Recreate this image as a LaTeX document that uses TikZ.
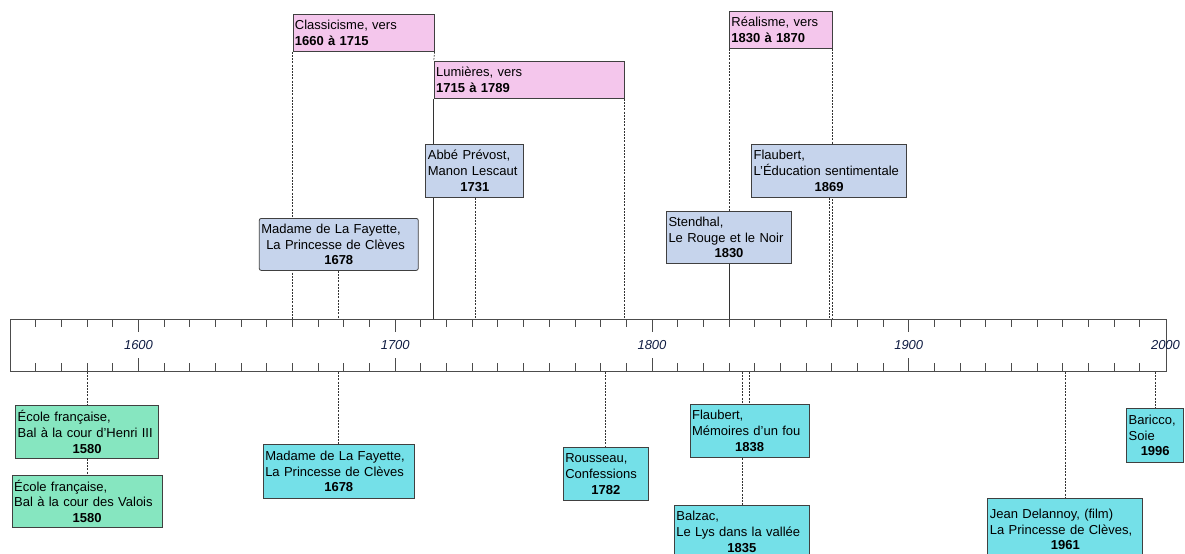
\documentclass[tikz,border=0pt]{standalone}
\usepackage{fontspec}
\setmainfont{Liberation Sans}
\usetikzlibrary{backgrounds}
\definecolor{eraPink}{RGB}{244,198,236}
\definecolor{upBlue}{RGB}{198,212,236}
\definecolor{downGreen}{RGB}{134,230,192}
\definecolor{downCyan}{RGB}{116,224,232}
\definecolor{yearInk}{RGB}{15,28,66}
\newcommand{\yearline}[1]{\makebox[\hsize]{\bfseries #1}}
\begin{document}
% x is in years, y is in points from the top
\begin{tikzpicture}[x=2.5675pt, y=-1pt, xshift=-3969.5pt,
	every node/.style = {font=\fontsize{13}{15.8}\selectfont},
	box/.style = {draw=black!75, line width=0.8pt, inner xsep=2pt, inner ysep=0pt, align=left},
	era/.style = {box, fill=eraPink, anchor=north west, minimum height=37pt, text width=#1},
	evt/.style = {box, anchor=north, minimum height=53pt, text width=#1},
	upevt/.style = {evt=#1, fill=upBlue},
	greenevt/.style = {evt=#1, fill=downGreen},
	cyanevt/.style = {evt=#1, fill=downCyan},
	yearlab/.style = {font=\fontsize{13}{15}\selectfont\itshape, text=yearInk, inner sep=0pt},
	tick/.style = {draw=black!70, line width=0.9pt},
	link/.style = {draw=black!80, line width=0.6pt, dash pattern=on 2pt off 1.2pt},
	solidlink/.style = {draw=black!80, line width=0.8pt}]
	\useasboundingbox (1546.06,0) rectangle (2007.6,554);
	% time axis
	\node[draw=black!70, line width=0.9pt, inner sep=0pt, anchor=north west,
		minimum width=1155.4pt, minimum height=52pt] (axis) at (1550,319) {};
	\foreach \yy in {1560,1570,...,1990} {
		\draw[tick] (\yy,319) -- ++(0,8);
		\draw[tick] (\yy,371) -- ++(0,-8);
	}
	\foreach \yy in {1600,1700,1800,1900} {
		\draw[tick] (\yy,319) -- ++(0,13);
		\draw[tick] (\yy,371) -- ++(0,-13);
	}
	\foreach \yy in {1600,1700,...,2000}
		\node[yearlab] (lab\yy) at (\yy,345) {\yy};
	% periods
	\node[era=137.2pt] (classic) at (1660,14) {Classicisme, vers\\\textbf{1660 à 1715}};
	\node[era=186pt] (lum) at (1715,61) {Lumières, vers\\\textbf{1715 à 1789}};
	\node[era=98.7pt] (real) at (1830,11) {Réalisme, vers\\\textbf{1830 à 1870}};
	% works above the axis
	\node[upevt=94pt] (prevost) at (1731,144) {Abbé Prévost,\\Manon Lescaut\\\yearline{1731}};
	\node[upevt=155pt, minimum height=52pt, rounded corners=2pt] (lafA) at (1678,218)
		{Madame de La Fayette,\\\hspace*{5pt}La Princesse de Clèves\\\yearline{1678}};
	\node[upevt=151pt] (educ) at (1869,144) {Flaubert,\\L'Éducation sentimentale\\\yearline{1869}};
	\node[upevt=121pt, minimum height=52pt] (stendhal) at (1830,211) {Stendhal,\\Le Rouge et le Noir\\\yearline{1830}};
	% works below the axis
	\node[greenevt=139pt] (henri) at (1580,405) {École française,\\Bal à la cour d'Henri III\\\yearline{1580}};
	\node[greenevt=146pt, minimum height=52pt] (valois) at (1580,475) {École française,\\Bal à la cour des Valois\\\yearline{1580}};
	\node[cyanevt=147pt, minimum height=54pt] (lafB) at (1678,444) {Madame de La Fayette,\\La Princesse de Clèves\\\yearline{1678}};
	\node[cyanevt=81pt] (rousseau) at (1782,447) {Rousseau,\\Confessions\\\yearline{1782}};
	\node[cyanevt=115pt] (memo) at (1838,404) {Flaubert,\\Mémoires d'un fou\\\yearline{1838}};
	\node[cyanevt=131pt] (balzac) at (1835,505) {Balzac,\\Le Lys dans la vallée\\\yearline{1835}};
	\node[cyanevt=151pt, minimum height=62pt] (delannoy) at (1961,498) {Jean Delannoy, (film)\\La Princesse de Clèves,\\\yearline{1961}};
	\node[cyanevt=53pt, minimum height=54pt] (baricco) at (1996,408) {Baricco,\\Soie\\\yearline{1996}};
	\begin{pgfonlayer}{background}
		\draw[link] (classic.south west) -- (classic.south west |- axis.north);
		\draw[link] (classic.south east) -- (lum.north west);
		\draw[solidlink] (lum.south west) -- (lum.south west |- axis.north);
		\draw[link] (lum.south east) -- (lum.south east |- axis.north);
		\draw[link] (real.south west) -- (stendhal.north);
		\draw[solidlink] (stendhal.south) -- (stendhal.south |- axis.north);
		\draw[link] (real.south east) -- (real.south east |- axis.north);
		\draw[link] (prevost.south) -- (prevost.south |- axis.north);
		\draw[link] (lafA.south) -- (lafA.south |- axis.north);
		\draw[link] (educ.south) -- (educ.south |- axis.north);
		\draw[link] (henri.north |- axis.south) -- (henri.north);
		\draw[link] (henri.south) -- (valois.north);
		\draw[link] (lafB.north |- axis.south) -- (lafB.north);
		\draw[link] (rousseau.north |- axis.south) -- (rousseau.north);
		\draw[link] (memo.north |- axis.south) -- (memo.north);
		\draw[link] (balzac.north |- axis.south) -- (balzac.north);
		\draw[link] (delannoy.north |- axis.south) -- (delannoy.north);
		\draw[link] (baricco.north |- axis.south) -- (baricco.north);
	\end{pgfonlayer}
\end{tikzpicture}
\end{document}
